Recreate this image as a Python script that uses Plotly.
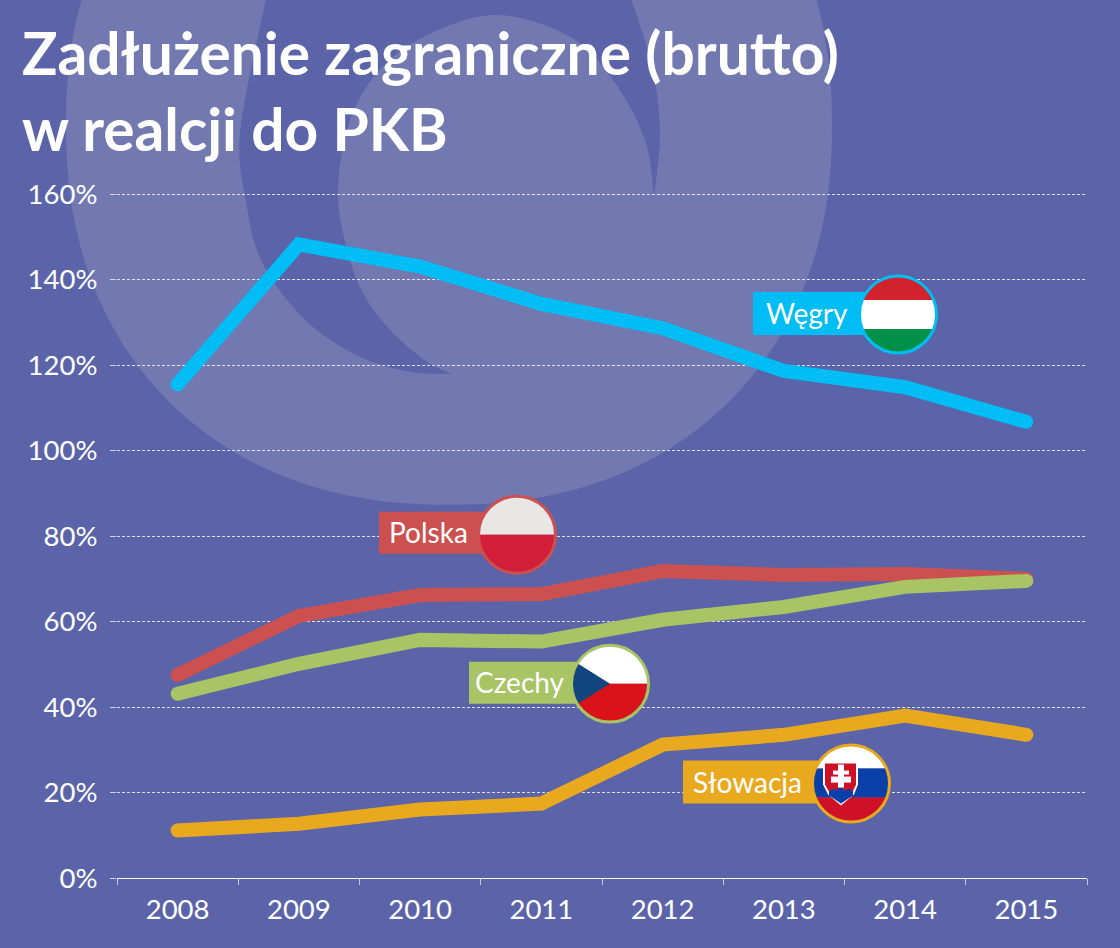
import numpy as np
import plotly.graph_objects as go

# Values (% of GDP)
years = ["2008", "2009", "2010", "2011", "2012", "2013", "2014", "2015"]
wegry = [115.5, 148.2, 143.0, 134.3, 128.6, 118.6, 114.8, 106.7]
polska = [47.5, 61.3, 66.2, 66.4, 71.8, 70.9, 71.1, 70.0]
czechy = [43.1, 50.1, 55.7, 55.3, 60.4, 63.4, 68.1, 69.5]
slowacja = [11.1, 12.7, 16.0, 17.4, 31.2, 33.5, 38.0, 33.5]
y_ticks = [0, 20, 40, 60, 80, 100, 120, 140, 160]
y_labels = ["0%", "20%", "40%", "60%", "80%", "100%", "120%", "140%", "160%"]

BG = "#5b64a9"
LIGHT = "#7279b1"
BLUE = "#00bdf6"
RED = "#cd5050"
GREEN = "#a8c464"
ORANGE = "#e9a91f"

# Plot area in screen pixels
LEFT, RIGHT, TOP, BOTTOM = 117, 1087, 190, 878.5
Y_MAX = 160 * (BOTTOM - TOP) / (BOTTOM - 194)  # a bit above 160 so its grid line is kept

def px(x): return (x - LEFT) / (RIGHT - LEFT)
def py(y): return (BOTTOM - y) / (BOTTOM - TOP)

def poly(points, fill):
    path = "M" + " L".join(f"{px(x):.5f},{py(y):.5f}" for x, y in points) + " Z"
    return dict(type="path", path=path, xref="paper", yref="paper",
                fillcolor=fill, line=dict(width=0))

def band(cx, cy, r, y1, y2, fill):
    # piece of a circle between two horizontal lines
    ys = np.linspace(y1, y2, 50)
    half = np.sqrt(np.maximum(r**2 - (ys - cy)**2, 0))
    points = list(zip(cx - half, ys)) + list(zip(cx + half[::-1], ys[::-1]))
    return poly(points, fill)

def ring(cx, cy, r, color):
    return dict(type="circle", xref="paper", yref="paper",
                x0=px(cx - r), x1=px(cx + r), y0=py(cy + r), y1=py(cy - r),
                fillcolor="rgba(0,0,0,0)", line=dict(color=color, width=3))

def rect(x0, y0, x1, y1, fill):
    return dict(type="rect", xref="paper", yref="paper",
                x0=px(x0), x1=px(x1), y0=py(y1), y1=py(y0),
                fillcolor=fill, line=dict(width=0))

def smooth(points, n=12):
    # catmull-rom through the traced outline
    p = np.array(points, dtype=float)
    p = np.vstack([p[0], p, p[-1]])
    out = []
    for i in range(1, len(p) - 2):
        for t in np.linspace(0, 1, n, endpoint=False):
            out.append(0.5 * (2*p[i] + (p[i+1]-p[i-1])*t
                              + (2*p[i-1]-5*p[i]+4*p[i+1]-p[i+2])*t**2
                              + (3*p[i]-p[i-1]-3*p[i+1]+p[i+2])*t**3))
    out.append(p[-1])
    return out

# Background logo
theta = np.linspace(0, 2*np.pi, 360)
logo_outer = list(zip(449 + 383*np.sign(np.cos(theta))*np.abs(np.cos(theta))**(2/2.2),
                      125 + 380*np.sign(np.sin(theta))*np.abs(np.sin(theta))**(2/2.2)))
logo_dark = (
    smooth([(266, -2), (240, 133), (247, 207), (257, 250), (277, 287),
            (313, 327), (360, 357), (410, 372), (452, 374)])
    + smooth([(452, 374), (427, 362), (393, 333), (367, 300), (350, 260), (338, 193),
              (351, 117), (386, 63), (438, 30), (494, 15), (550, 27),
              (591, 53), (626, 100), (647, 147), (654, 197)])
    + smooth([(654, 197), (660, 133), (652, 67), (631, -2)])
)
shapes = [poly(logo_outer, LIGHT), poly(logo_dark, BG)]
for s in shapes:
    s["layer"] = "below"

# Label boxes and flags
shapes += [rect(753, 292, 870, 335, BLUE),
           band(898, 314.5, 39, 275, 300, "#d2232c"),
           band(898, 314.5, 39, 300, 329, "#ffffff"),
           band(898, 314.5, 39, 329, 354, "#00904a"),
           ring(898, 314.5, 38.5, BLUE)]

shapes += [rect(379, 512, 490, 554, RED),
           band(517, 535, 39, 496, 535, "#e8e7e6"),
           band(517, 535, 39, 535, 574, "#d31e3a"),
           ring(517, 535, 38.5, RED)]

arc = np.linspace(np.radians(148), np.radians(212), 30)
shapes += [rect(469, 662, 580, 704, GREEN),
           band(610, 684, 39, 645, 684, "#ffffff"),
           band(610, 684, 39, 684, 723, "#da1219"),
           poly([(610, 684)] + list(zip(610 + 38*np.cos(arc), 684 + 38*np.sin(arc))), "#11457e"),
           ring(610, 684, 38.5, GREEN)]

shapes += [rect(683, 761, 820, 804, ORANGE),
           band(851, 784, 39, 745, 769, "#ffffff"),
           band(851, 784, 39, 769, 798, "#0b3fa8"),
           band(851, 784, 39, 798, 823, "#ce1126"),
           poly([(823, 762), (858, 762), (858, 785), (854, 795), (841, 806), (828, 795), (823, 785)], "#ffffff"),
           poly([(825, 764), (856, 764), (856, 785), (852, 794), (841, 804), (830, 794), (825, 785)], "#ce1126"),
           poly([(829, 796), (829, 792), (833, 789), (836, 791), (840, 787), (845, 791),
                 (849, 789), (853, 792), (853, 796), (841, 804)], "#0b3fa8"),
           rect(838, 765, 844, 788, "#ffffff"),
           rect(833, 771, 849, 775, "#ffffff"),
           rect(831, 777, 851, 783, "#ffffff"),
           ring(851, 784, 38.5, ORANGE)]

fig = go.Figure()

for values, color in [(wegry, BLUE), (polska, RED), (czechy, GREEN), (slowacja, ORANGE)]:
    fig.add_trace(go.Scatter(x=years, y=values,
                             mode="lines+markers",
                             line=dict(color=color, width=14),
                             marker=dict(color=color, opacity=1,
                                         size=[14, 0, 0, 0, 0, 0, 0, 14], line=dict(width=0)),
                             hoverinfo="skip",
                             showlegend=False))

labels = [("Węgry", 807, 313), ("Polska", 428, 532), ("Czechy", 520, 682), ("Słowacja", 747, 782)]
annotations = [dict(text=t, x=px(x), y=py(y), xref="paper", yref="paper", showarrow=False,
                    xanchor="center", yanchor="middle",
                    font=dict(family="Lato", size=28, color="white"))
               for t, x, y in labels]

fig.update_layout(
    title=dict(text="<b>Zadłużenie zagraniczne (brutto)<br>w realcji do PKB</b>",
               x=22/1120, xanchor="left", xref="container",
               y=1 - 75/948, yanchor="top",
               font=dict(family="Lato", size=58.7, color="white")),
    width=1120,
    height=948,
    margin=dict(l=LEFT, r=1120 - RIGHT, t=TOP, b=948 - BOTTOM, pad=0),
    paper_bgcolor=BG,
    plot_bgcolor="rgba(0,0,0,0)",
    font=dict(family="Lato", size=27.5, color="white"),
    shapes=shapes,
    annotations=annotations,
    showlegend=False,
)
fig.update_xaxes(type="category", range=[-0.5, 7.5], tickson="boundaries",
                 showgrid=False, showline=True, linecolor="white", linewidth=1,
                 ticks="outside", ticklen=6, tickcolor="#c8cbe0", tickwidth=1,
                 ticklabelstandoff=7)
fig.update_yaxes(range=[0, Y_MAX], tickvals=y_ticks, ticktext=y_labels,
                 showgrid=True, gridcolor="rgba(255,255,255,0.8)", griddash="3px,2px", gridwidth=1,
                 zeroline=False, showline=False, ticks="outside", ticklen=6,
                 tickcolor="rgba(255,255,255,0.7)", tickwidth=1, ticklabelstandoff=7)

#fig.show()
fig.write_html("out.html", config=dict(displayModeBar=False),
               post_script="document.body.style.margin='0';")
